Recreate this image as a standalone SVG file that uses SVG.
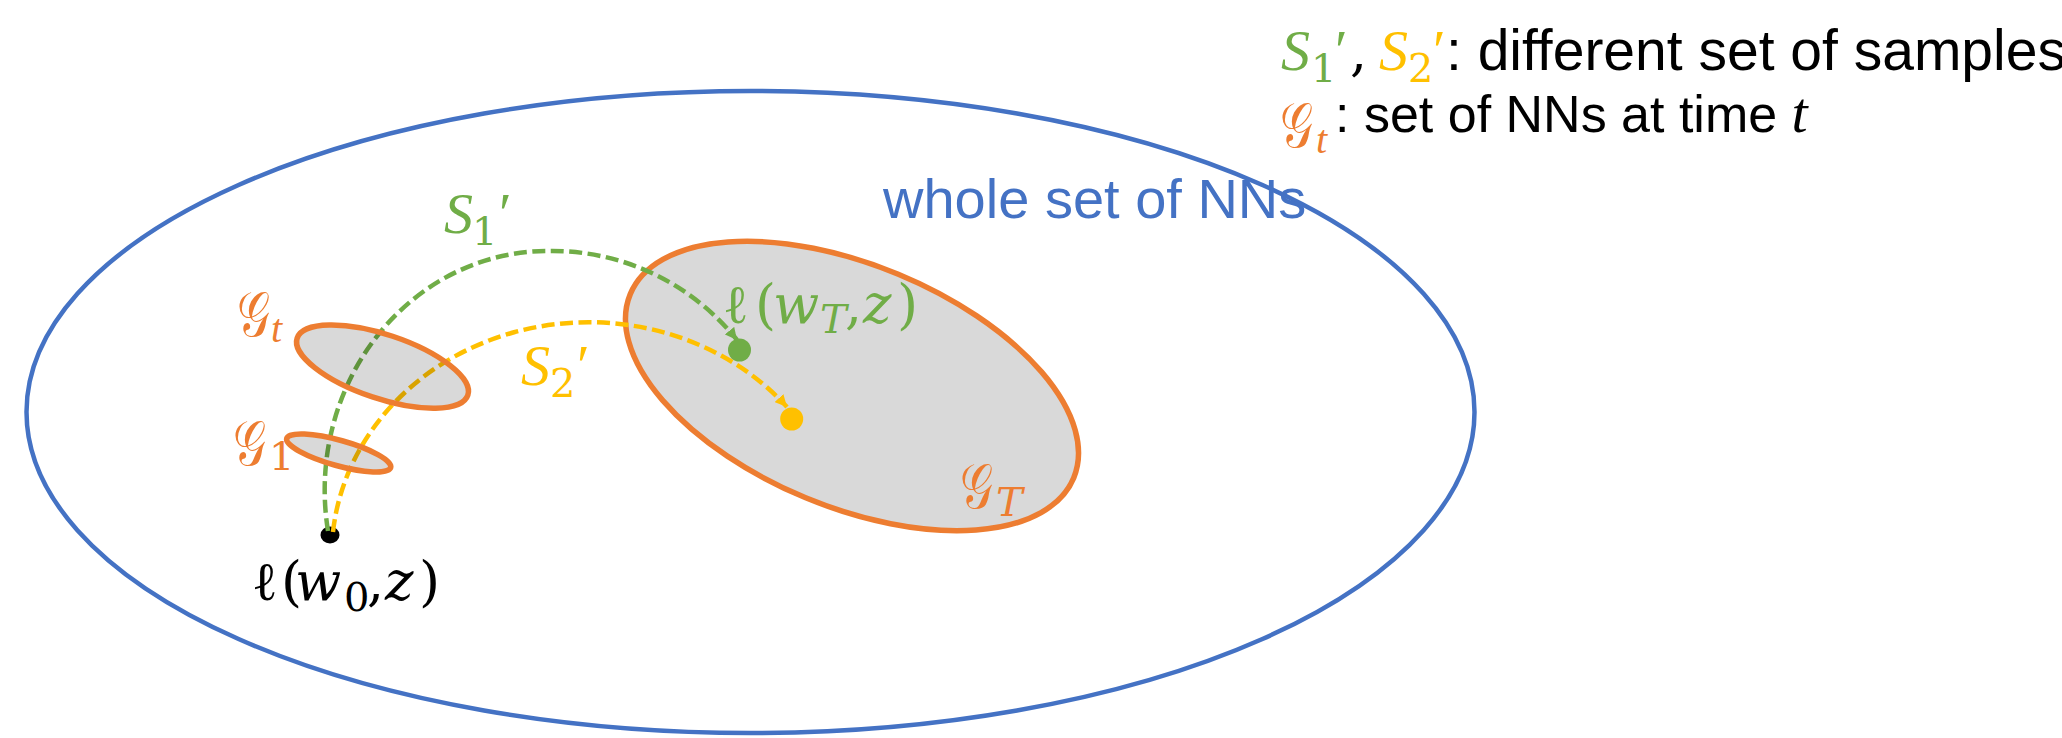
<svg xmlns="http://www.w3.org/2000/svg" width="2062" height="738" viewBox="0 0 2062 738">
<defs>
<style>
.bg{fill:#ffffff}
.whole{fill:none;stroke:#4472C4;stroke-width:4.5}
.set{fill:rgba(0,0,0,0.15);stroke:#ED7D31;stroke-width:5.5}
.setT{fill:#D9D9D9;stroke:#ED7D31;stroke-width:5.5}
.path{fill:none;stroke-width:4.5;stroke-dasharray:13 5.5}
.green{stroke:#70AD47}
.yellow{stroke:#FFC000}
.m{font-family:"DejaVu Serif","Liberation Serif",serif;font-style:italic;font-size:54px}
.s{font-family:"Liberation Serif","DejaVu Serif",serif;font-style:italic;font-size:58px}
.u{font-style:normal}
.sub{font-size:40px}
.g{font-family:"DejaVu Serif","DejaVu Sans","Noto Sans",serif;font-style:normal;font-size:64px}
.a{font-family:"Liberation Sans",Arial,sans-serif;font-size:57px}
.a2{font-family:"Liberation Sans",Arial,sans-serif;font-size:52px}
.cg{fill:#70AD47}
.cy{fill:#FFC000}
.co{fill:#ED7D31}
.cb{fill:#4472C4}
.ck{fill:#000000}
</style>
<marker id="arrG" viewBox="0 0 10 10" refX="10" refY="5" markerWidth="12" markerHeight="12" markerUnits="userSpaceOnUse" orient="auto">
<path d="M0,0 L10,5 L0,10 z" fill="#70AD47"/>
</marker>
<marker id="arrY" viewBox="0 0 10 10" refX="10" refY="5" markerWidth="12" markerHeight="12" markerUnits="userSpaceOnUse" orient="auto">
<path d="M0,0 L10,5 L0,10 z" fill="#FFC000"/>
</marker>
</defs>
<rect class="bg" x="0" y="0" width="2062" height="738"/>

<g id="whole-set">
<ellipse class="whole" cx="750.5" cy="412" rx="724" ry="321"/>
<text class="a cb" x="883" y="218" style="font-size:56px">whole set of NNs</text>
</g>

<g id="G_T">
<ellipse class="setT" cx="852" cy="386" rx="240" ry="121" transform="rotate(22.5 852 386)"/>
<text class="g co" transform="translate(960 508) scale(0.72 1)">𝒢</text>
<text class="m sub co" x="996" y="516">T</text>
</g>

<g id="w0">
<ellipse cx="330" cy="535" rx="9.5" ry="8.5" fill="#000"/>
<text class="m ck" y="600"><tspan class="u" x="252">ℓ</tspan><tspan class="u" x="281">(</tspan><tspan x="295">w</tspan><tspan class="u sub" x="344" y="611">0</tspan><tspan class="u" x="367" y="600">,</tspan><tspan x="385">z</tspan><tspan class="u" x="419">)</tspan></text>
</g>

<g id="connectors">
<path id="S1" class="path green" d="M328 531 A223 239 0 0 1 550 251 A237 239 0 0 1 737 340" marker-end="url(#arrG)"/>
<path id="S2" class="path yellow" d="M333 532 A257 233 0 0 1 787 407" marker-end="url(#arrY)"/>
</g>

<g id="G_t">
<ellipse class="set" cx="382.5" cy="366.6" rx="90" ry="32" transform="rotate(18.5 382.5 366.6)"/>
<text class="g co" transform="translate(237 336) scale(0.72 1)">𝒢</text>
<text class="s sub co" x="271" y="342">t</text>
</g>

<g id="G_1">
<ellipse class="set" cx="338.7" cy="453" rx="54" ry="12.7" transform="rotate(15.6 338.7 453)"/>
<text class="g co" transform="translate(233 465) scale(0.72 1)">𝒢</text>
<text class="m u sub co" x="269" y="470">1</text>
</g>

<g id="wT">
<circle cx="739.5" cy="350" r="11.5" fill="#70AD47"/>
<text class="m cg" y="323"><tspan class="u" x="723">ℓ</tspan><tspan class="u" x="755">(</tspan><tspan x="773">w</tspan><tspan class="sub" x="820" y="333">T</tspan><tspan class="u" x="845" y="323">,</tspan><tspan x="863">z</tspan><tspan class="u" x="897">)</tspan></text>
</g>

<g id="wT2">
<circle cx="791.7" cy="419" r="11.5" fill="#FFC000"/>
</g>

<g id="label-S1">
<text class="cg"><tspan class="s" x="444" y="233">S</tspan><tspan class="m u sub" x="472" y="245">1</tspan><tspan class="s u" x="499" y="233">′</tspan></text>
</g>

<g id="label-S2">
<text class="cy"><tspan class="s" x="521" y="385">S</tspan><tspan class="m u sub" x="550" y="397">2</tspan><tspan class="s u" x="577" y="385">′</tspan></text>
</g>

<g id="legend">
<text y="70"><tspan class="s cg" x="1281">S</tspan><tspan class="m u sub cg" x="1311" y="82">1</tspan><tspan class="s u cg" x="1335" y="70">′</tspan><tspan class="m u ck" x="1350">,</tspan><tspan class="s cy" x="1379">S</tspan><tspan class="m u sub cy" x="1408" y="82">2</tspan><tspan class="s u cy" x="1433" y="70">′</tspan><tspan class="a ck" x="1446">: different set of samples</tspan></text>
<text class="g co" transform="translate(1280 147) scale(0.72 1)">𝒢</text>
<text class="s sub co" x="1316" y="153">t</text>
<text y="132"><tspan class="a2 ck" x="1335">: set of NNs at time </tspan><tspan class="s ck">t</tspan></text>
</g>
</svg>
